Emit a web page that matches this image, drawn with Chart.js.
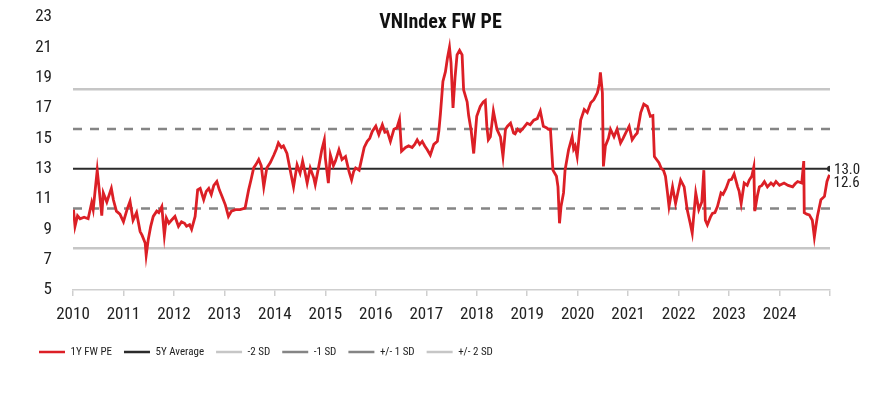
<!DOCTYPE html>
<html>
<head>
<meta charset="utf-8">
<script src="https://cdn.jsdelivr.net/npm/chart.js@4.4.1/dist/chart.umd.min.js"></script>
<style>
  html, body { margin: 0; padding: 0; background: #fff; }
  #wrap { width: 875px; height: 396px; }
</style>
</head>
<body>
<div id="wrap"><canvas id="peChart" width="875" height="396"></canvas></div>
<script>
// decimal years and 1Y forward PE
const dates = [
  2010.01, 2010.04, 2010.09, 2010.14, 2010.22, 2010.30, 2010.37, 2010.40, 2010.44, 2010.48,
  2010.52, 2010.57, 2010.60, 2010.67, 2010.76, 2010.80, 2010.86, 2010.93, 2011.00, 2011.07,
  2011.13, 2011.19, 2011.26, 2011.33, 2011.37, 2011.43, 2011.45, 2011.49, 2011.54, 2011.59,
  2011.66, 2011.70, 2011.76, 2011.81, 2011.85, 2011.90, 2011.95, 2012.02, 2012.09, 2012.15,
  2012.21, 2012.25, 2012.31, 2012.35, 2012.42, 2012.47, 2012.52, 2012.59, 2012.64, 2012.69,
  2012.74, 2012.79, 2012.85, 2012.90, 2012.95, 2013.02, 2013.08, 2013.14, 2013.22, 2013.31,
  2013.41, 2013.48, 2013.53, 2013.58, 2013.63, 2013.68, 2013.73, 2013.78, 2013.84, 2013.91,
  2013.98, 2014.03, 2014.07, 2014.13, 2014.17, 2014.24, 2014.31, 2014.37, 2014.44, 2014.50,
  2014.55, 2014.59, 2014.64, 2014.70, 2014.77, 2014.80, 2014.87, 2014.93, 2014.98, 2015.00,
  2015.06, 2015.10, 2015.16, 2015.20, 2015.27, 2015.33, 2015.40, 2015.47, 2015.52, 2015.56,
  2015.60, 2015.67, 2015.71, 2015.77, 2015.83, 2015.88, 2015.93, 2016.00, 2016.06, 2016.13,
  2016.18, 2016.23, 2016.29, 2016.36, 2016.42, 2016.47, 2016.51, 2016.59, 2016.65, 2016.72,
  2016.77, 2016.82, 2016.87, 2016.92, 2016.97, 2017.02, 2017.08, 2017.15, 2017.22, 2017.25,
  2017.28, 2017.33, 2017.38, 2017.42, 2017.46, 2017.49, 2017.53, 2017.57, 2017.61, 2017.66,
  2017.71, 2017.74, 2017.81, 2017.84, 2017.89, 2017.94, 2018.00, 2018.07, 2018.13, 2018.17,
  2018.20, 2018.23, 2018.27, 2018.33, 2018.40, 2018.47, 2018.52, 2018.57, 2018.61, 2018.67,
  2018.73, 2018.76, 2018.81, 2018.86, 2018.93, 2019.00, 2019.06, 2019.13, 2019.20, 2019.26,
  2019.32, 2019.38, 2019.42, 2019.46, 2019.51, 2019.58, 2019.61, 2019.64, 2019.67, 2019.72,
  2019.75, 2019.82, 2019.89, 2019.92, 2019.95, 2019.99, 2020.06, 2020.13, 2020.19, 2020.26,
  2020.32, 2020.39, 2020.43, 2020.45, 2020.49, 2020.51, 2020.55, 2020.61, 2020.65, 2020.72,
  2020.78, 2020.85, 2020.90, 2020.95, 2021.02, 2021.08, 2021.14, 2021.18, 2021.25, 2021.31,
  2021.38, 2021.44, 2021.49, 2021.52, 2021.61, 2021.66, 2021.70, 2021.74, 2021.78, 2021.81,
  2021.88, 2021.94, 2021.99, 2022.04, 2022.11, 2022.17, 2022.23, 2022.27, 2022.34, 2022.40,
  2022.46, 2022.50, 2022.53, 2022.57, 2022.63, 2022.67, 2022.72, 2022.77, 2022.84, 2022.88,
  2022.94, 2023.00, 2023.05, 2023.10, 2023.17, 2023.20, 2023.24, 2023.30, 2023.36, 2023.40,
  2023.45, 2023.49, 2023.51, 2023.56, 2023.60, 2023.65, 2023.70, 2023.76, 2023.83, 2023.88,
  2023.93, 2024.00, 2024.09, 2024.17, 2024.26, 2024.31, 2024.36, 2024.44, 2024.48, 2024.49,
  2024.54, 2024.59, 2024.65, 2024.69, 2024.72, 2024.75, 2024.82, 2024.89, 2024.94, 2024.99
];
const pe = [
  10.3, 9.2, 9.9, 9.7, 9.8, 9.7, 10.75, 10.3, 11.6, 12.9,
  11.6, 9.9, 11.4, 10.8, 11.7, 10.95, 10.2, 10.0, 9.5, 10.3,
  10.85, 9.6, 10.1, 8.85, 8.6, 8.1, 7.3, 8.3, 9.2, 9.85,
  10.2, 10.1, 10.5, 8.6, 9.75, 9.4, 9.6, 9.85, 9.2, 9.5,
  9.4, 9.2, 9.3, 9.0, 9.85, 11.6, 11.7, 10.95, 11.5, 11.7,
  11.3, 11.9, 12.15, 11.6, 11.2, 10.6, 9.85, 10.2, 10.3, 10.3,
  10.4, 11.6, 12.3, 13.05, 13.3, 13.6, 13.2, 11.8, 13.05, 13.4,
  13.9, 14.3, 14.7, 14.4, 14.5, 14.0, 12.8, 11.8, 13.25, 12.7,
  13.5, 12.9, 12.05, 13.05, 12.4, 11.95, 13.15, 14.25, 14.9, 13.7,
  12.05, 13.9, 13.2, 13.5, 14.25, 13.6, 13.8, 12.8, 12.25, 12.8,
  13.05, 12.9, 13.5, 14.4, 14.8, 15.0, 15.45, 15.8, 15.25, 15.9,
  15.4, 15.45, 14.8, 15.6, 15.7, 16.25, 14.15, 14.4, 14.5, 14.4,
  14.6, 14.9, 14.6, 14.8, 14.5, 14.25, 13.9, 14.6, 14.8, 15.5,
  16.6, 18.75, 19.4, 20.3, 21.0, 20.0, 17.0, 19.0, 20.5, 20.8,
  20.5, 18.2, 17.4, 16.5, 15.5, 14.0, 16.45, 17.1, 17.4, 17.5,
  15.8, 14.9, 15.1, 16.8, 15.6, 15.1, 13.8, 15.6, 15.8, 16.0,
  15.35, 15.3, 15.6, 15.45, 15.7, 16.0, 15.9, 16.2, 16.3, 16.8,
  15.8, 15.7, 15.6, 15.6, 12.9, 12.5, 11.8, 9.4, 10.5, 11.4,
  12.9, 14.25, 15.1, 14.3, 14.5, 13.8, 16.2, 16.9, 16.7, 17.35,
  17.55, 18.0, 18.6, 19.35, 18.0, 13.15, 14.5, 15.0, 15.6, 15.1,
  15.6, 14.7, 15.0, 15.35, 15.8, 14.9, 15.2, 15.35, 16.7, 17.25,
  17.1, 16.45, 16.5, 13.8, 13.4, 13.0, 12.9, 12.5, 11.4, 10.5,
  11.8, 10.7, 11.5, 12.25, 11.8, 10.3, 9.4, 8.75, 11.4, 10.3,
  10.8, 12.9, 9.6, 9.3, 9.8, 10.05, 10.1, 10.5, 11.4, 11.3,
  11.7, 12.25, 12.3, 12.65, 11.8, 11.5, 10.7, 12.05, 11.9, 12.25,
  12.5, 13.1, 10.2, 11.2, 11.8, 11.9, 12.15, 11.8, 12.05, 11.9,
  12.15, 11.9, 12.05, 11.9, 11.8, 12.0, 12.15, 12.05, 13.5, 10.1,
  10.0, 9.95, 9.6, 8.5, 9.2, 9.85, 10.95, 11.17, 12.16, 12.6
];
const xStart = 2010;
const xEnd = 2025;
const avg5y = 13.0;
const bandLabels = ['-2 SD', '-1 SD', '+/- 1 SD', '+/- 2 SD'];
const bandValues = [7.76, 10.38, 15.62, 18.24];
const yTicks = [5, 7, 9, 11, 13, 15, 17, 19, 21, 23];

const FONT = "'Roboto Condensed', 'Liberation Sans Narrow', sans-serif";
const flat = v => [{x: xStart, y: v}, {x: xEnd, y: v}];

const bandStyle = [
  {color: '#c6c6c6', dash: []},
  {color: '#858585', dash: [9, 8]},
  {color: '#858585', dash: [9, 8]},
  {color: '#c6c6c6', dash: []}
];

const datasets = [
  {
    label: '1Y FW PE',
    data: dates.map((d, i) => ({x: d, y: pe[i]})),
    borderColor: '#dc1f26',
    borderWidth: 2.8,
    pointRadius: 0,
    tension: 0
  },
  {
    label: '5Y Average',
    data: flat(avg5y),
    borderColor: '#2b2b2b',
    backgroundColor: '#2b2b2b',
    borderWidth: 2,
    pointRadius: [0, 3],
    pointBorderWidth: 0
  }
];
bandLabels.forEach((lab, i) => {
  datasets.push({
    label: lab,
    data: flat(bandValues[i]),
    borderColor: bandStyle[i].color,
    borderDash: bandStyle[i].dash,
    borderWidth: 2.5,
    pointRadius: 0
  });
});

const endLabels = {
  id: 'endLabels',
  afterDatasetsDraw(chart) {
    const ctx = chart.ctx;
    const avgMeta = chart.getDatasetMeta(1).data;
    const peMeta = chart.getDatasetMeta(0).data;
    const a = avgMeta[avgMeta.length - 1];
    const p = peMeta[peMeta.length - 1];
    ctx.save();
    ctx.font = '15px ' + FONT;
    ctx.fillStyle = '#222';
    ctx.textAlign = 'left';
    ctx.textBaseline = 'middle';
    ctx.fillText(avg5y.toFixed(1), a.x + 4, a.y + 2);
    ctx.fillText(pe[pe.length - 1].toFixed(1), p.x + 4, p.y + 9);
    // title
    ctx.font = 'bold 20px ' + FONT;
    ctx.textAlign = 'center';
    ctx.fillStyle = '#111';
    ctx.fillText('VNIndex FW PE', chart.width / 2 + 3, 23);
    ctx.restore();
  }
};

new Chart(document.getElementById('peChart'), {
  type: 'line',
  data: { datasets: datasets },
  options: {
    responsive: false,
    animation: false,
    events: [],
    layout: { padding: { left: 27, right: 45, top: 17, bottom: 28.5 } },
    scales: {
      x: {
        type: 'linear',
        min: xStart,
        max: xEnd,
        afterFit: s => { s.height = 44.5; },
        afterBuildTicks: s => { s.ticks = []; for (let y = xStart; y <= xEnd; y++) s.ticks.push({value: y}); },
        ticks: {
          autoSkip: false,
          maxRotation: 0,
          padding: 9,
          color: '#222',
          font: { family: FONT, size: 17 },
          callback: v => v === xEnd ? '' : String(v)
        },
        grid: { drawOnChartArea: false, tickLength: 6, color: '#cfcfcf', lineWidth: 1.5 },
        border: { color: '#cfcfcf', width: 1.5 }
      },
      y: {
        min: 5,
        max: 23,
        afterFit: s => { s.width = 46; },
        afterBuildTicks: s => { s.ticks = yTicks.map(v => ({value: v})); },
        ticks: {
          padding: 2,
          color: '#222',
          font: { family: FONT, size: 17 }
        },
        grid: { display: true, drawOnChartArea: false, drawTicks: true, tickLength: 19, tickColor: 'rgba(0,0,0,0)' },
        border: { display: false }
      }
    },
    plugins: {
      title: { display: false },
      tooltip: { enabled: false },
      legend: {
        position: 'bottom',
        align: 'start',
        labels: {
          usePointStyle: true,
          pointStyle: 'line',
          pointStyleWidth: 26,
          padding: 12,
          color: '#222',
          font: { family: FONT, size: 11 },
          generateLabels: chart => {
            const items = Chart.defaults.plugins.legend.labels.generateLabels(chart);
            items.forEach(it => {
              it.lineWidth = 2.5;
              if (it.lineDash && it.lineDash.length) it.lineDash = [5, 4];
            });
            return items;
          }
        }
      }
    }
  },
  plugins: [endLabels]
});
</script>
</body>
</html>
